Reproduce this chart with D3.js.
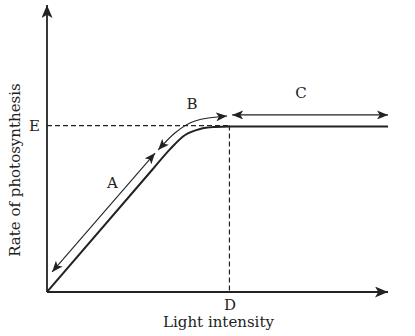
<!DOCTYPE html>
<html>
<head>
<meta charset="utf-8">
<script src="https://cdn.jsdelivr.net/npm/d3@7"></script>
<style>
  body { margin: 0; background: #fff; }
  svg { display: block; }
</style>
</head>
<body>
<div id="chart"></div>
<script>
// light response curve (light intensity vs rate), arbitrary units
const lightIntensity = [0, 3.08, 3.61, 4.05, 4.49, 4.93, 5.37, 10];
const photoRate      = [0, 4.25, 4.98, 5.47, 5.68, 5.75, 5.77, 5.77];

// region arrows
const arrowA = [[0.15, 0.70], [3.17, 4.84]];
const arrowB = [[3.26, 4.95], [3.75, 5.54], [4.34, 5.96], [5.28, 6.13]];
const arrowC = [[5.43, 6.17], [10, 6.17]];

const levelE = 5.8;
const levelD = 5.35;
const regionLabels = ['A', 'B', 'C'];
const regionLabelPos = [[1.92, 3.75], [4.25, 6.5], [7.45, 6.9]];

const width = 415, height = 336;
const margin = {top: 5, right: 27, bottom: 44, left: 47};

const svg = d3.select('#chart').append('svg')
  .attr('width', width)
  .attr('height', height);

const x = d3.scaleLinear().domain([0, 10]).range([margin.left, width - margin.right]);
const y = d3.scaleLinear().domain([0, 10]).range([height - margin.bottom, margin.top]);

const font = 'DejaVu Serif, serif';

// arrowheads
const defs = svg.append('defs');
function marker(id, len, half, orient) {
  defs.append('marker')
    .attr('id', id)
    .attr('viewBox', `0 ${-half} ${len} ${half * 2}`)
    .attr('refX', len)
    .attr('refY', 0)
    .attr('markerUnits', 'userSpaceOnUse')
    .attr('markerWidth', len)
    .attr('markerHeight', half * 2)
    .attr('orient', orient)
    .append('path')
    .attr('d', `M0,${-half}L${len},0L0,${half}L${len * 0.25},0Z`)
    .attr('fill', '#222');
}
marker('axisHead', 13, 5.5, 'auto');
marker('smallHead', 11, 4.5, 'auto-start-reverse');

// axis labels E and D
const xAxis = svg.append('g')
  .attr('transform', `translate(0,${y(0)})`)
  .call(d3.axisBottom(x).tickValues([levelD]).tickFormat(() => 'D').tickSize(0).tickPadding(7));
xAxis.select('.domain').remove();

const yAxis = svg.append('g')
  .attr('transform', `translate(${x(0)},0)`)
  .call(d3.axisLeft(y).tickValues([levelE]).tickFormat(() => 'E').tickSize(0).tickPadding(7));
yAxis.select('.domain').remove();

svg.selectAll('.tick text')
  .style('font-family', font)
  .style('font-size', '15px')
  .attr('fill', '#222');

// axis lines
svg.append('line')
  .attr('x1', x(0)).attr('y1', y(0))
  .attr('x2', x(0)).attr('y2', y(10))
  .attr('stroke', '#222').attr('stroke-width', 1.8)
  .attr('marker-end', 'url(#axisHead)');
svg.append('line')
  .attr('x1', x(0)).attr('y1', y(0))
  .attr('x2', x(10)).attr('y2', y(0))
  .attr('stroke', '#222').attr('stroke-width', 1.8)
  .attr('marker-end', 'url(#axisHead)');

// dashed guides
svg.append('line')
  .attr('x1', x(0)).attr('y1', y(levelE))
  .attr('x2', x(levelD)).attr('y2', y(levelE))
  .attr('stroke', '#222').attr('stroke-width', 1.2)
  .attr('stroke-dasharray', '5,3');
svg.append('line')
  .attr('x1', x(levelD)).attr('y1', y(levelE))
  .attr('x2', x(levelD)).attr('y2', y(0))
  .attr('stroke', '#222').attr('stroke-width', 1.2)
  .attr('stroke-dasharray', '5,3');

// main curve
const curveData = lightIntensity.map((d, i) => [d, photoRate[i]]);
const line = d3.line()
  .x(d => x(d[0]))
  .y(d => y(d[1]))
  .curve(d3.curveMonotoneX);

svg.append('path')
  .datum(curveData)
  .attr('d', line)
  .attr('fill', 'none')
  .attr('stroke', '#222')
  .attr('stroke-width', 2);

// region arrows
[arrowA, arrowB, arrowC].forEach(pts => {
  svg.append('path')
    .datum(pts)
    .attr('d', d3.line().x(d => x(d[0])).y(d => y(d[1])).curve(d3.curveMonotoneX))
    .attr('fill', 'none')
    .attr('stroke', '#222')
    .attr('stroke-width', 1.1)
    .attr('marker-start', 'url(#smallHead)')
    .attr('marker-end', 'url(#smallHead)');
});

svg.selectAll('.region-label')
  .data(regionLabels)
  .enter()
  .append('text')
  .attr('class', 'region-label')
  .attr('x', (d, i) => x(regionLabelPos[i][0]))
  .attr('y', (d, i) => y(regionLabelPos[i][1]))
  .attr('text-anchor', 'middle')
  .attr('dominant-baseline', 'middle')
  .style('font-family', font)
  .style('font-size', '15px')
  .attr('fill', '#222')
  .text(d => d);

// axis titles
svg.append('text')
  .attr('x', (x(0) + x(10)) / 2 + 1)
  .attr('y', 327)
  .attr('text-anchor', 'middle')
  .style('font-family', font)
  .style('font-size', '15px')
  .attr('fill', '#222')
  .text('Light intensity');

svg.append('text')
  .attr('transform', `translate(20,${170}) rotate(-90)`)
  .attr('text-anchor', 'middle')
  .style('font-family', font)
  .style('font-size', '15px')
  .attr('fill', '#222')
  .text('Rate of photosynthesis');
</script>
</body>
</html>
